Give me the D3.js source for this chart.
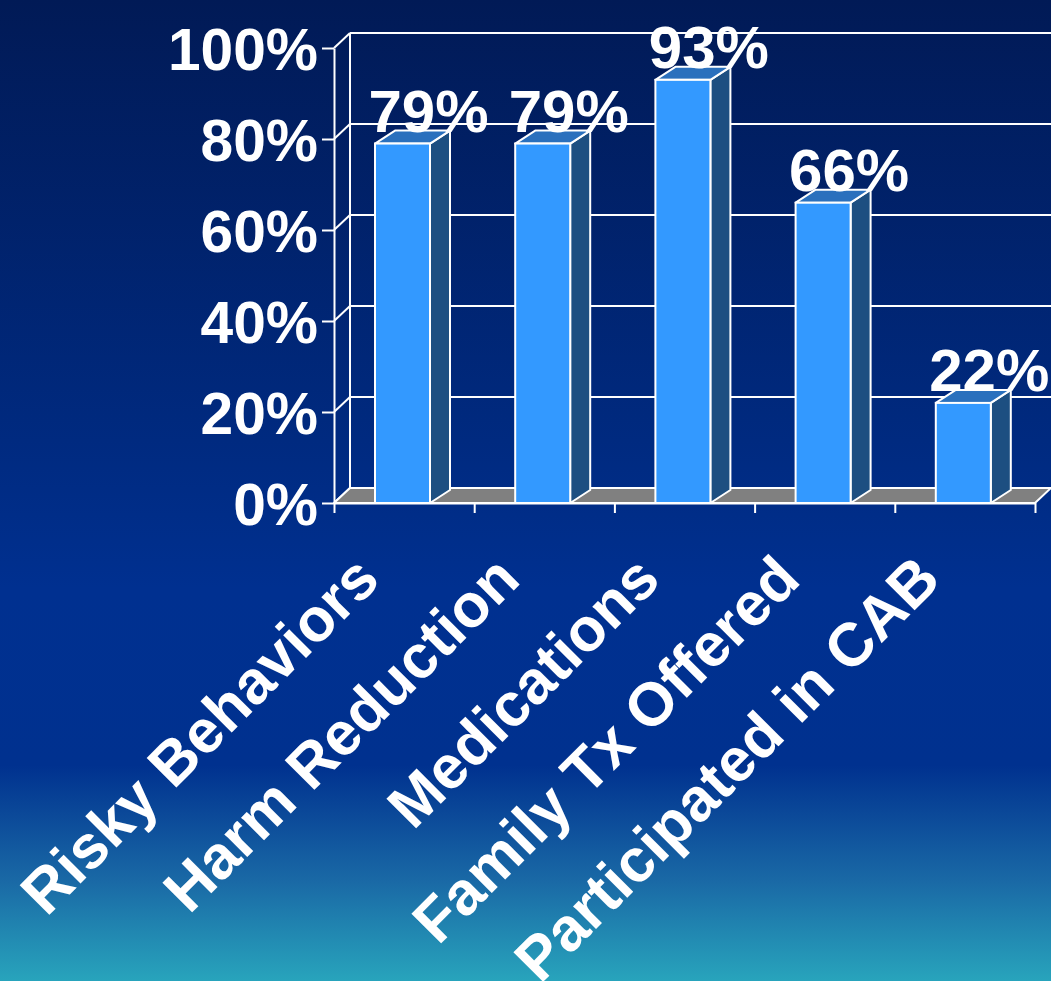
<!DOCTYPE html>
<html>
<head>
<meta charset="utf-8">
<script src="https://cdn.jsdelivr.net/npm/d3@7"></script>
<style>
  html, body { margin: 0; padding: 0; overflow: hidden; background: #002e8c; }
  svg { display: block; }
  text { font-family: "Liberation Sans", Arial, sans-serif; font-weight: bold; fill: #fff; }
</style>
</head>
<body>
<svg id="chart" width="1051" height="981"></svg>
<script>
// Chart data
const categories = ["Risky Behaviors", "Harm Reduction", "Medications", "Family Tx Offered", "Participated in CAB"];
const values = [79, 79, 93, 66, 22];
const valueLabels = ["79%", "79%", "93%", "66%", "22%"];
const tickValues = [0, 20, 40, 60, 80, 100];
const tickLabels = ["0%", "20%", "40%", "60%", "80%", "100%"];

const W = 1051, H = 981;
const svg = d3.select("#chart");

// Background gradient: dark navy at the top, royal blue, teal at the bottom
const defs = svg.append("defs");
const grad = defs.append("linearGradient").attr("id", "bg")
  .attr("x1", 0).attr("y1", 0).attr("x2", 0).attr("y2", 1);
[[0, "#011a56"], [0.45, "#002a80"], [0.6, "#003090"], [0.78, "#00318f"], [0.9, "#1a6aa6"], [1, "#28a4bc"]]
  .forEach(([o, c]) => grad.append("stop").attr("offset", o).attr("stop-color", c));
svg.append("rect").attr("width", W).attr("height", H).attr("fill", "url(#bg)");

// Plot geometry (front plane of the 3D box)
const x0 = 334, x1 = 1035;
const y = d3.scaleLinear().domain([0, 100]).range([503, 48]);
const xBand = d3.scaleBand().domain(categories).range([x0, x1]);
const xEdge = d3.scaleLinear().domain([0, categories.length]).range([x0, x1]);
const wall = { dx: 16, dy: -15 };   // depth of the back wall
const bar = { dx: 20, dy: -13 };    // depth of each column
const barOffset = 41, barWidth = 55;
const tickFont = 58.7, valueFont = 60, catFont = 61;

const lineStyle = s => s.attr("stroke", "#fff").attr("stroke-width", 2).attr("fill", "none");

// Back wall: horizontal gridlines and its left edge
const g = svg.append("g");
g.selectAll("line.grid").data(tickValues).join("line")
  .attr("class", "grid")
  .attr("x1", x0 + wall.dx).attr("x2", x1 + wall.dx)
  .attr("y1", d => y(d) + wall.dy).attr("y2", d => y(d) + wall.dy)
  .call(lineStyle);
g.append("line")
  .attr("x1", x0 + wall.dx).attr("x2", x0 + wall.dx)
  .attr("y1", y(100) + wall.dy).attr("y2", y(0) + wall.dy)
  .call(lineStyle);
// Side wall diagonals joining the front axis to the back wall
g.selectAll("line.side").data(tickValues).join("line")
  .attr("class", "side")
  .attr("x1", x0).attr("x2", x0 + wall.dx)
  .attr("y1", d => y(d)).attr("y2", d => y(d) + wall.dy)
  .call(lineStyle);

// Floor
const floorPts = [[x0, y(0)], [x0 + wall.dx, y(0) + wall.dy], [x1 + wall.dx, y(0) + wall.dy], [x1, y(0)]];
g.append("path")
  .attr("d", d3.line()(floorPts) + "Z")
  .attr("fill", "#808080").attr("stroke", "#fff").attr("stroke-width", 2).attr("stroke-linejoin", "round");

// Columns
const bars = svg.append("g").selectAll("g").data(categories).join("g");
bars.each(function (c, i) {
  const gBar = d3.select(this);
  const L = xBand(c) + barOffset, R = L + barWidth;
  const T = y(values[i]), B = y(0);
  const poly = pts => d3.line()(pts) + "Z";
  // right side face
  gBar.append("path")
    .attr("d", poly([[R, T], [R + bar.dx, T + bar.dy], [R + bar.dx, B + bar.dy], [R, B]]))
    .attr("fill", "#1d4f81").attr("stroke", "#fff").attr("stroke-width", 2).attr("stroke-linejoin", "round");
  // top face
  gBar.append("path")
    .attr("d", poly([[L, T], [L + bar.dx, T + bar.dy], [R + bar.dx, T + bar.dy], [R, T]]))
    .attr("fill", "#2a70bd").attr("stroke", "#fff").attr("stroke-width", 2).attr("stroke-linejoin", "round");
  // front face
  gBar.append("rect")
    .attr("x", L).attr("y", T).attr("width", barWidth).attr("height", B - T)
    .attr("fill", "#3399ff").attr("stroke", "#fff").attr("stroke-width", 2);
});

// Y axis on the front plane
const yAxis = svg.append("g").attr("transform", `translate(${x0},0)`)
  .call(d3.axisLeft(y).tickValues(tickValues)
    .tickFormat((d, i) => tickLabels[i]).tickSize(12).tickSizeOuter(0).tickPadding(4));
yAxis.select(".domain").attr("stroke", "#fff").attr("stroke-width", 2);
yAxis.selectAll(".tick line").attr("stroke", "#fff").attr("stroke-width", 2);
yAxis.selectAll(".tick text")
  .attr("font-size", tickFont).attr("dy", "0.36em")
  .style("font-family", '"Liberation Sans", Arial, sans-serif').style("font-weight", "bold")
  .attr("fill", "#fff");

// X axis with ticks between categories
const xAxis = svg.append("g").attr("transform", `translate(0,${y(0)})`)
  .call(d3.axisBottom(xEdge).tickValues(d3.range(categories.length + 1))
    .tickFormat("").tickSize(10).tickSizeOuter(0));
xAxis.select(".domain").attr("stroke", "#fff").attr("stroke-width", 2);
xAxis.selectAll(".tick line").attr("stroke", "#fff").attr("stroke-width", 2);

// Category labels, rotated
svg.append("g").selectAll("text").data(categories).join("text")
  .attr("transform", d => `translate(${xBand(d) + xBand.bandwidth() / 2 - 22},582) rotate(-45)`)
  .attr("text-anchor", "end")
  .attr("font-size", catFont)
  .text(d => d);

// Value labels above each column
svg.append("g").selectAll("text").data(categories).join("text")
  .attr("x", d => xBand(d) + barOffset + barWidth / 2 + 26)
  .attr("y", (d, i) => y(values[i]) - 12)
  .attr("text-anchor", "middle")
  .attr("font-size", valueFont)
  .text((d, i) => valueLabels[i]);
</script>
</body>
</html>
